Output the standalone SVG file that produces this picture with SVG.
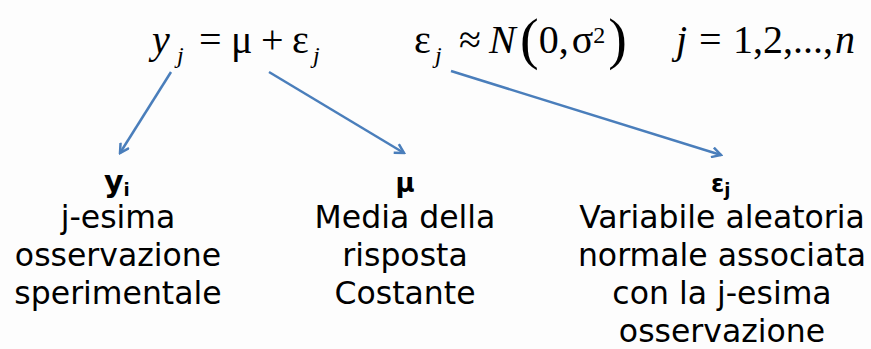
<svg xmlns="http://www.w3.org/2000/svg" width="871" height="349" viewBox="0 0 871 349">
<defs>
<style>
.m{font-family:"Liberation Serif","Times New Roman",serif;font-size:40px;fill:#000}
.i{font-style:italic}
.sub{font-size:24px}
.p{font-size:56px}
.b{font-family:"DejaVu Sans",Verdana,sans-serif;font-size:31.5px;fill:#000;text-anchor:middle}
.h{font-family:"DejaVu Sans",Verdana,sans-serif;font-weight:bold;fill:#000}
.c{stroke:#4A7EBB;stroke-width:2.5;fill:none;marker-end:url(#ah)}
</style>
<marker id="ah" viewBox="0 0 12 12" refX="10" refY="6" markerWidth="12" markerHeight="12" markerUnits="userSpaceOnUse" orient="auto">
<path d="M1,1 L10,6 L1,11" fill="none" stroke="#4A7EBB" stroke-width="2.5"/>
</marker>
</defs>
<rect width="871" height="349" fill="#FDFDFD"/>
<g id="formula">
<text class="m i" x="152" y="53">y</text>
<text class="m i sub" x="177" y="63">j</text>
<text class="m" x="199" y="53">=</text>
<text class="m" x="231" y="53">μ</text>
<text class="m" x="261" y="53">+</text>
<text class="m" x="292" y="53">ε</text>
<text class="m i sub" x="313" y="63">j</text>
<text class="m" x="414" y="53">ε</text>
<text class="m i sub" x="435" y="63">j</text>
<text class="m" x="459" y="53">≈</text>
<text class="m i" x="489" y="53">N</text>
<text class="m" x="520" y="58"><tspan class="p">(</tspan><tspan dy="-5">0,</tspan><tspan dx="3">σ</tspan><tspan class="sub" dy="-10">2</tspan><tspan class="p" dx="3" dy="15">)</tspan></text>
<text class="m i" x="676" y="53">j</text>
<text class="m" x="699" y="53">=</text>
<text class="m" x="733" y="53">1,2,...,</text>
<text class="m i" x="835" y="53">n</text>
</g>
<g id="connectors">
<line class="c" x1="171" y1="72" x2="120" y2="153"/>
<line class="c" x1="269" y1="72" x2="404" y2="153"/>
<line class="c" x1="451" y1="71" x2="721" y2="155"/>
</g>
<g id="node-y">
<text class="h" x="104" y="192" style="font-size:30px">y<tspan style="font-size:18px" dy="4">i</tspan></text>
<text class="b" x="118" y="228">j-esima</text>
<text class="b" x="118" y="266">osservazione</text>
<text class="b" x="118" y="304">sperimentale</text>
</g>
<g id="node-mu">
<text class="h" x="405" y="192" style="font-size:26px;text-anchor:middle">μ</text>
<text class="b" x="405" y="228">Media della</text>
<text class="b" x="405" y="266">risposta</text>
<text class="b" x="405" y="304">Costante</text>
</g>
<g id="node-eps">
<text class="h" x="711" y="192" style="font-size:24px">ε<tspan style="font-size:18px" dy="4">j</tspan></text>
<text class="b" x="722" y="228">Variabile aleatoria</text>
<text class="b" x="722" y="266">normale associata</text>
<text class="b" x="722" y="304">con la j-esima</text>
<text class="b" x="722" y="342">osservazione</text>
</g>
</svg>
